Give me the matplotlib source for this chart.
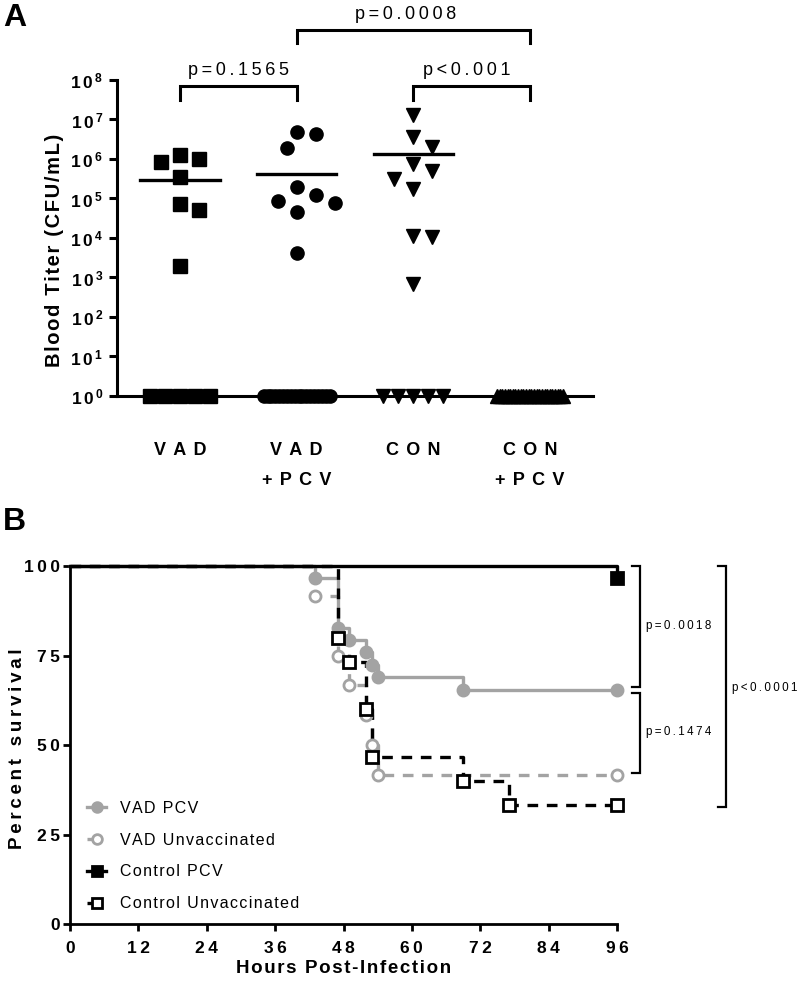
import numpy as np
import matplotlib
matplotlib.use("Agg")
import matplotlib.pyplot as plt
from matplotlib.lines import Line2D

plt.rcParams['font.family'] = ['Liberation Sans', 'DejaVu Sans']
plt.rcParams['mathtext.fontset'] = 'custom'
plt.rcParams['mathtext.rm'] = 'Liberation Sans'
plt.rcParams['mathtext.bf'] = 'Liberation Sans:bold'

# ---------------- Panel A data ----------------
groups_a = ["VAD", "VAD\n+PCV", "CON", "CON\n+PCV"]
vad_titer = [1.26e6, 1.0e6, 8.4e5, 3.5e5, 7.3e4, 5.0e4, 2.0e3, 1, 1, 1, 1, 1]
vad_pcv_titer = [4.8e6, 4.3e6, 1.9e6, 1.95e5, 1.2e5, 8.7e4, 7.7e4, 4.6e4, 4.2e3] + [1] * 18
con_titer = [1.3e7, 3.6e6, 2.0e6, 7.5e5, 5.0e5, 3.1e5, 1.7e5, 1.1e4, 1.07e4, 690, 1, 1, 1, 1, 1]
con_pcv_titer = [1] * 26
titers = [vad_titer, vad_pcv_titer, con_titer, con_pcv_titer]
markers_a = ['s', 'o', 'v', '^']
yticks_a = [10 ** k for k in range(9)]
pvals_a = ["p=0.1565", "p=0.0008", "p<0.001"]

# ---------------- Panel B data ----------------
hours_ticks = [0, 12, 24, 36, 48, 60, 72, 84, 96]
surv_ticks = [0, 25, 50, 75, 100]
vad_pcv_t = [0, 43, 47, 49, 52, 53, 54, 69, 96]
vad_pcv_s = [100, 96.6, 82.8, 79.3, 75.9, 72.4, 69.0, 65.5, 65.5]
vad_unvac_t = [0, 43, 47, 49, 52, 53, 54, 96]
vad_unvac_s = [100, 91.7, 75.0, 66.7, 58.3, 50.0, 41.7, 41.7]
con_pcv_t = [0, 96]
con_pcv_s = [100, 96.6]
con_unvac_t = [0, 47, 49, 52, 53, 69, 77, 96]
con_unvac_s = [100, 80.0, 73.3, 60.0, 46.7, 40.0, 33.3, 33.3]
series_names = ["VAD PCV", "VAD Unvaccinated", "Control PCV", "Control Unvaccinated"]
pvals_b = ["p=0.0018", "p=0.1474", "p<0.0001"]

THIN = '\u2009'
HAIR = '\u200a'

def track(s, sep):
    """Letter-spaced version of a label (GraphPad-style tracking)."""
    return '\n'.join(sep.join(list(line)) for line in s.split('\n'))

W, H = 800, 988
fig = plt.figure(figsize=(W / 100, H / 100), dpi=100)

def fx(px):
    return px / W

def fy(py):
    return 1 - py / H

# ================= Panel A =================
axA = fig.add_axes([fx(117), fy(396), fx(593 - 117), (396 - 80) / H])
axA.set_yscale('log')
axA.set_ylim(1, 1e8)
axA.set_xlim(0.46, 4.54)
for s in ['top', 'right']:
    axA.spines[s].set_visible(False)
axA.spines['left'].set_linewidth(2.2)
axA.spines['bottom'].set_linewidth(2.2)
axA.set_yticks(yticks_a)
axA.set_yticklabels([r'$\mathbf{1\,0^{\,%d}}$' % int(np.log10(v)) for v in yticks_a], fontsize=12.5)
axA.yaxis.set_minor_locator(matplotlib.ticker.NullLocator())
axA.tick_params(axis='y', length=6, width=2.2, pad=4)
axA.set_xticks([1, 2, 3, 4])
axA.set_xticklabels([track(g, THIN * 2) for g in groups_a], fontsize=13,
                    fontweight='bold', linespacing=2.0, va='top')
axA.tick_params(axis='x', length=0, pad=33)
axA.set_ylabel(track("Blood Titer (CFU/mL)", HAIR), fontsize=14.5,
               fontweight='bold')
axA.yaxis.set_label_coords(-0.112, 0.46)

px_per_unit = (593 - 117) / (4.54 - 0.46)
px_per_dec = (396 - 80) / 8.0
diam = 18.0
step = 9.5

for gi, vals in enumerate(titers):
    xc = gi + 1
    vals = np.array(vals, dtype=float)
    pos = vals[vals > 1]
    ones = vals[vals <= 1]
    xs, ys = [], []
    placed = []
    for v in pos:
        ypx = np.log10(v) * px_per_dec
        for k in [0, 1, -1, 2, -2, 3, -3, 4, -4]:
            xo = k * step
            if all(np.hypot(xo - a, ypx - b) >= diam for a, b in placed):
                placed.append((xo, ypx))
                break
        xs.append(xc + xo / px_per_unit)
        ys.append(v)
    n1 = len(ones)
    if n1 > 0:
        width = min((n1 - 1) * 15.0, 66.0)
        offs = np.linspace(-width / 2, width / 2, n1) if n1 > 1 else np.array([0.0])
        xs += list(xc + offs / px_per_unit)
        ys += list(ones)
    axA.plot(xs, ys, linestyle='none', marker=markers_a[gi], color='black',
             markersize=9.5, clip_on=False, zorder=3)
    m = np.mean(vals)
    if m > 1.5:
        axA.plot([xc - 0.34, xc + 0.34], [m, m], color='black', lw=2.4, zorder=4)

def bracket(ax, x1, x2, ytop, ybot, text, ytext, dx=0.0):
    ax.plot([x1, x1, x2, x2], [ybot, ytop, ytop, ybot], color='black', lw=2.2,
            clip_on=False, solid_joinstyle='miter')
    ax.text((x1 + x2) / 2 + dx, ytext, track(text, THIN), ha='center', va='center',
            fontsize=13)

bracket(axA, 1, 2, 10 ** 7.85, 10 ** 7.49, pvals_a[0], 10 ** 8.25)
bracket(axA, 2, 4, 10 ** 9.27, 10 ** 8.94, pvals_a[1], 10 ** 9.66, dx=-0.07)
bracket(axA, 3, 4, 10 ** 7.85, 10 ** 7.49, pvals_a[2], 10 ** 8.25, dx=-0.04)

fig.text(fx(3), fy(18), "A", fontsize=23, fontweight='bold', ha='left', va='center')
fig.text(fx(3), fy(522), "B", fontsize=23, fontweight='bold', ha='left', va='center')

# ================= Panel B =================
axB = fig.add_axes([fx(70), fy(924), fx(617 - 70), (924 - 566) / H])
axB.set_xlim(0, 96)
axB.set_ylim(0, 100)
for s in ['top', 'right']:
    axB.spines[s].set_visible(False)
axB.spines['left'].set_linewidth(2.0)
axB.spines['bottom'].set_linewidth(2.0)
axB.set_xticks(hours_ticks)
axB.set_xticklabels([track(str(v), THIN) for v in hours_ticks])
axB.set_yticks(surv_ticks)
axB.set_yticklabels([track(str(v), THIN) for v in surv_ticks])
axB.tick_params(axis='both', length=5, width=2.0, labelsize=12.5)
for lab in axB.get_xticklabels() + axB.get_yticklabels():
    lab.set_fontweight('bold')
axB.tick_params(axis='x', pad=7)
axB.tick_params(axis='y', pad=2)
axB.set_xlabel(track("Hours Post-Infection", HAIR), fontsize=13.5,
               fontweight='bold', labelpad=3)
axB.set_ylabel(track("Percent survival", THIN), fontsize=13.5,
               fontweight='bold')
axB.yaxis.set_label_coords(-0.08, 0.49)

gray = '#a3a3a3'
styles = [
    dict(color=gray, ls='-', marker='o', mfc=gray, mec=gray),
    dict(color=gray, ls=(0, (3.2, 2.6)), marker='o', mfc='white', mec=gray),
    dict(color='black', ls='-', marker='s', mfc='black', mec='black'),
    dict(color='black', ls=(0, (3.2, 2.6)), marker='s', mfc='white', mec='black'),
]
data_b = [(vad_pcv_t, vad_pcv_s), (vad_unvac_t, vad_unvac_s),
          (con_pcv_t, con_pcv_s), (con_unvac_t, con_unvac_s)]
handles = []
for (t, s), st in zip(data_b, styles):
    axB.step(t, s, where='post', color=st['color'], ls=st['ls'], lw=2.4,
             clip_on=False, zorder=2)
    axB.plot(t[1:], s[1:], ls='none', marker=st['marker'], mfc=st['mfc'],
             mec=st['mec'], mew=2.0, markersize=8, clip_on=False, zorder=3)
    handles.append(Line2D([0], [0], color=st['color'], ls=st['ls'], lw=2.4,
                          marker=st['marker'], mfc=st['mfc'], mec=st['mec'],
                          mew=2.0, markersize=7))

axB.legend(handles, [track(n, HAIR) for n in series_names], loc='lower left',
           bbox_to_anchor=(0.02, 0.018), frameon=False, fontsize=11.5,
           handlelength=1.2, handletextpad=0.85, labelspacing=1.05, borderaxespad=0)

def rbracket(ax, x, ytop, ybot, text, xtext, ytext):
    ax.plot([x - 1.4, x, x, x - 1.4], [ytop, ytop, ybot, ybot], color='black',
            lw=1.6, clip_on=False, solid_joinstyle='miter')
    ax.text(xtext, ytext, track(text, THIN), ha='left', va='center', fontsize=8.4)

rbracket(axB, 100.0, 100, 66.2, pvals_b[0], 101.1, 83.2)
rbracket(axB, 100.0, 64.5, 42.2, pvals_b[1], 101.1, 53.6)
rbracket(axB, 115.1, 100, 32.7, pvals_b[2], 116.1, 65.9)

fig.savefig("out.png", dpi=100)
